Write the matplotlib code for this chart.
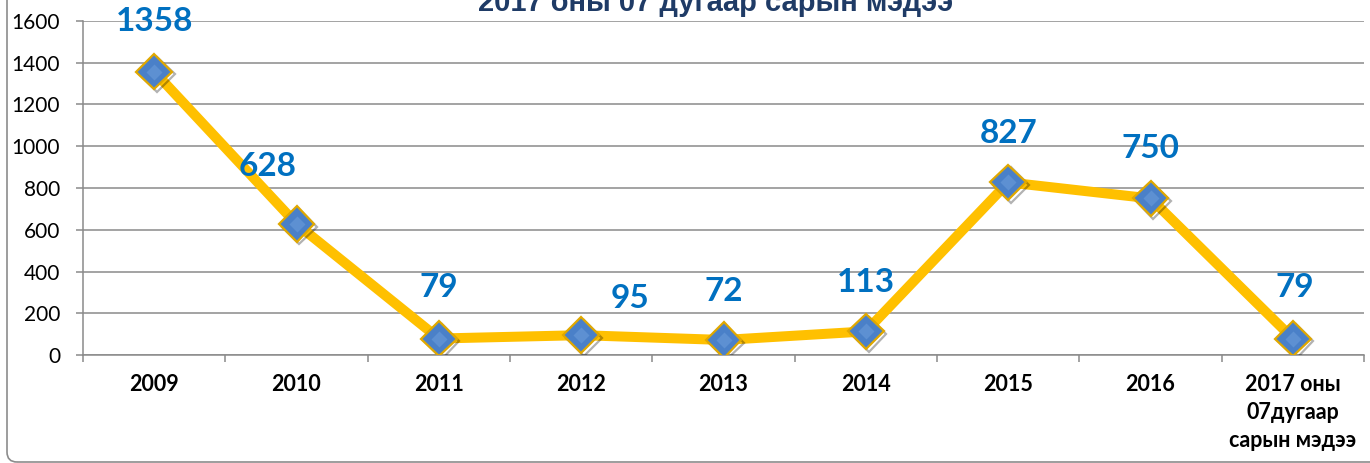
import matplotlib
matplotlib.use('Agg')
import matplotlib.pyplot as plt
from matplotlib.patches import FancyBboxPatch
from matplotlib import patheffects

plt.rcParams['font.family'] = ['Lato', 'Noto Sans', 'DejaVu Sans']

# өгөгдөл
categories = ['2009', '2010', '2011', '2012', '2013', '2014', '2015', '2016',
              '2017 оны\n07дугаар\nсарын мэдээ']
values = [1358, 628, 79, 95, 72, 113, 827, 750, 79]
yticks = [0, 200, 400, 600, 800, 1000, 1200, 1400, 1600]
title = '2017 оны 07 дугаар сарын мэдээ'

# шошгын байрлал (пиксел)
label_offsets = [(0, 50), (-29, 57), (0, 51), (49, 37), (0, 48),
                 (0, 49), (0, 49), (0, 50), (2, 51)]

W, H = 1370, 463
fig = plt.figure(figsize=(W / 100, H / 100), dpi=100)
ax = fig.add_axes([83 / W, 1 - 355 / H, (1364 - 83) / W, (355 - 21) / H])

x = list(range(len(categories)))
ax.plot(x, values, color='#FFC000', lw=7.2, solid_capstyle='round', zorder=2)
ax.plot(x, values, ls='none', marker='D', ms=18, mfc='#4A80C8', mec='#E0A800',
        mew=1.6, zorder=3,
        path_effects=[patheffects.SimpleLineShadow(offset=(2, -2), alpha=0.3),
                      patheffects.Normal()])
# тодруулга
ax.plot(x, values, ls='none', marker='D', ms=8, mfc='#6A9BDA', mec='none',
        alpha=0.6, zorder=3.5)

for xi, v, off in zip(x, values, label_offsets):
    ax.annotate(str(v), (xi, v), xytext=off, textcoords='offset pixels',
                ha='center', va='center', fontsize=24, fontweight='bold',
                color='#0070C0', zorder=4)

ax.set_xlim(-0.5, len(categories) - 0.5)
ax.set_ylim(0, 1600)
ax.set_yticks(yticks)
ax.set_yticklabels([str(t) for t in yticks])
ax.set_xticks(x)
ax.set_xticklabels(categories, fontweight='bold', fontsize=15.5, linespacing=1.4)
ax.set_xticks([i - 0.5 for i in range(len(categories) + 1)], minor=True)
ax.tick_params(axis='x', which='major', length=0, pad=14)
ax.tick_params(axis='x', which='minor', length=5, color='#8A8A8A', width=1.1)
ax.tick_params(axis='y', length=5, color='#8A8A8A', width=1.1, pad=11.5, labelsize=15)

ax.grid(axis='y', color='#8A8A8A', lw=1.1, zorder=0)
ax.set_axisbelow(True)
for s in ['top', 'right']:
    ax.spines[s].set_visible(False)
for s in ['left', 'bottom']:
    ax.spines[s].set_color('#8A8A8A')
    ax.spines[s].set_linewidth(1.1)

fig.text(716 / W, 1 - 11 / H, title, ha='center', va='baseline',
         fontsize=21, fontweight='bold', color='#1F3B66',
         family=['Liberation Sans', 'DejaVu Sans'])

# хүрээ
border = FancyBboxPatch((0.07, 0.01), 14, 5,
                        boxstyle='round,pad=0,rounding_size=0.1',
                        transform=fig.dpi_scale_trans, fill=False,
                        ec='#8C8C8C', lw=1.2, clip_on=False)
fig.add_artist(border)

fig.savefig('out.png', dpi=100)
